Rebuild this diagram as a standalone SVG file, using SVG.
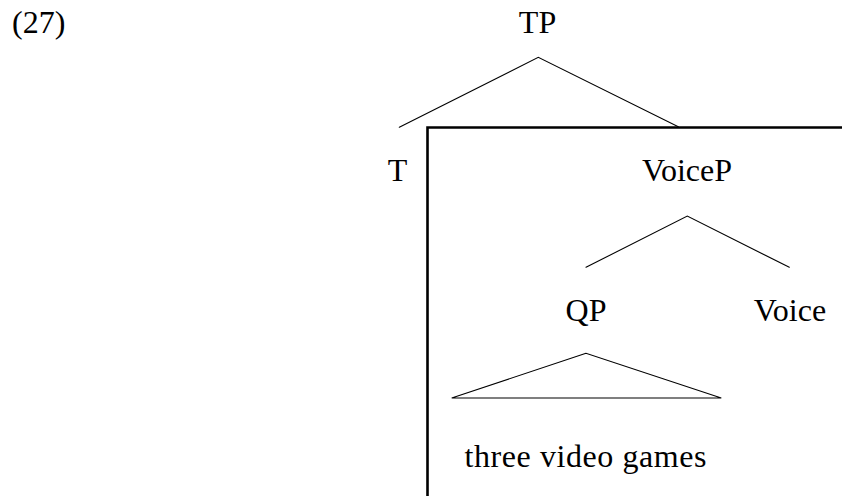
<svg xmlns="http://www.w3.org/2000/svg" width="842" height="496" viewBox="0 0 842 496">
  <style>
    text { font-family: "Liberation Serif", "Times New Roman", serif; font-size: 32px; fill: #000; }
    .mid { text-anchor: middle; }
    .edge { stroke: #000; stroke-width: 1.1; fill: none; stroke-linecap: round; }
    .box { stroke: #000; stroke-width: 2.6; fill: none; }
  </style>
  <rect width="842" height="496" fill="#fff"/>

  <!-- example number -->
  <text x="12" y="32.5">(27)</text>

  <!-- boxed VoiceP constituent (open to the right and bottom) -->
  <path class="box" d="M427.5 500 V127.5 H846"/>

  <!-- branches -->
  <g id="connectors">
    <polyline class="edge" points="399.3,127.3 538.3,57.3 678.3,126.7"/>
    <polyline class="edge" points="586,267.3 687.3,216 789.3,267.3"/>
    <polygon class="edge" points="586,353.3 451.7,398 721.3,398"/>
  </g>

  <g id="TP"><text class="mid" x="537.5" y="32.5">TP</text></g>
  <g id="T"><text class="mid" x="397.5" y="181">T</text></g>
  <g id="VoiceP"><text class="mid" x="687" y="181">VoiceP</text></g>
  <g id="QP"><text class="mid" x="586" y="320.7">QP</text></g>
  <g id="Voice"><text class="mid" x="790" y="320.7">Voice</text></g>
  <g id="three-video-games"><text class="mid" x="585.5" y="467.3" textLength="242" lengthAdjust="spacing">three video games</text></g>
</svg>
